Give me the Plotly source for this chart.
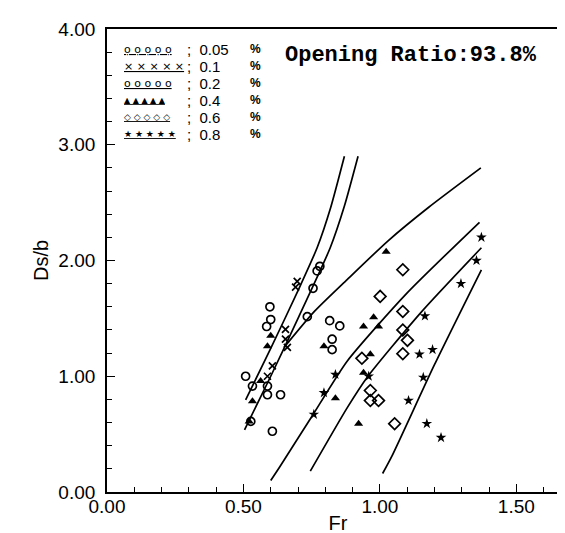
import plotly.graph_objects as go

# ---- data ----
c005_x = [0.597, 0.600, 0.585, 0.508, 0.533, 0.588, 0.588, 0.527, 0.606]
c005_y = [1.60, 1.49, 1.43, 1.00, 0.915, 0.915, 0.84, 0.61, 0.525]

c01_x = [0.697, 0.691, 0.654, 0.654, 0.661, 0.606, 0.588]
c01_y = [1.82, 1.77, 1.405, 1.32, 1.25, 1.09, 1.00]

c02_x = [0.734, 0.816, 0.853, 0.825, 0.825, 0.636, 0.755, 0.780, 0.770]
c02_y = [1.515, 1.48, 1.435, 1.32, 1.23, 0.84, 1.76, 1.95, 1.91]

c04_x = [0.795, 0.940, 0.837, 0.940, 0.922, 1.023, 0.977, 0.995, 0.965,
         0.600, 0.588, 0.563, 0.533, 0.521]
c04_y = [1.26, 1.43, 0.81, 1.03, 0.59, 2.075, 1.51, 1.43, 1.19,
         1.35, 1.26, 0.96, 0.785, 0.61]

c06_x = [1.084, 1.001, 1.084, 1.084, 1.101, 1.084, 0.934, 0.965, 0.965, 0.995, 1.054]
c06_y = [1.92, 1.69, 1.56, 1.40, 1.31, 1.195, 1.155, 0.877, 0.79, 0.79, 0.59]

c08_x = [0.837, 0.795, 0.758, 1.372, 1.354, 1.297, 1.165, 1.193, 1.145, 1.159,
         1.105, 1.172, 1.224, 0.959]
c08_y = [1.015, 0.857, 0.67, 2.20, 2.00, 1.80, 1.52, 1.23, 1.19, 0.99,
         0.79, 0.59, 0.47, 1.00]

# fitted curves
curveA_x = [0.508, 0.60, 0.70, 0.77, 0.82, 0.87]
curveA_y = [0.795, 1.24, 1.74, 2.11, 2.46, 2.90]
curveB_x = [0.504, 0.60, 0.70, 0.818, 0.87, 0.92]
curveB_y = [0.537, 1.00, 1.50, 2.11, 2.47, 2.90]
curveC_x = [0.648, 0.760, 0.880, 1.030, 1.179, 1.37]
curveC_y = [1.247, 1.56, 1.835, 2.17, 2.46, 2.80]
curveD_x = [0.60, 0.631, 0.750, 0.880, 1.10, 1.365]
curveD_y = [0.10, 0.21, 0.65, 1.13, 1.72, 2.33]
curveE_x = [0.745, 0.880, 0.953, 1.15, 1.372]
curveE_y = [0.18, 0.727, 0.99, 1.55, 2.11]
curveF_x = [1.01, 1.044, 1.20, 1.372]
curveF_y = [0.16, 0.31, 1.10, 1.92]

legend_labels = ["0.05", "0.1", "0.2", "0.4", "0.6", "0.8"]
legend_glyphs = ["ọ", "×", "o", "▲", "◇", "★"]
legend_glyph_sizes = [11, 11, 11, 8, 9, 9]

x_ticks = [0.0, 0.5, 1.0, 1.5]
y_ticks = [0.0, 1.0, 2.0, 3.0, 4.0]

fig = go.Figure()

for cx, cy in [(curveA_x, curveA_y), (curveB_x, curveB_y), (curveC_x, curveC_y),
               (curveD_x, curveD_y), (curveE_x, curveE_y), (curveF_x, curveF_y)]:
    fig.add_trace(go.Scatter(x=cx, y=cy, mode="lines",
                             line=dict(color="black", width=1.7, shape="spline", smoothing=0.6),
                             showlegend=False, hoverinfo="skip"))

series = [
    (c005_x, c005_y, dict(symbol="circle-open", size=8, color="black", line=dict(width=1.7))),
    (c01_x, c01_y, dict(symbol="x-thin-open", size=7, color="black", line=dict(width=1.7))),
    (c02_x, c02_y, dict(symbol="circle-open", size=8, color="black", line=dict(width=1.7))),
    (c04_x, c04_y, dict(symbol="triangle-up", size=8, color="black", line=dict(width=0))),
    (c06_x, c06_y, dict(symbol="diamond-open", size=9, color="black", line=dict(width=1.7))),
    (c08_x, c08_y, dict(symbol="star", size=8, color="black", line=dict(width=0))),
]
for (sx, sy, mk), lab in zip(series, legend_labels):
    fig.add_trace(go.Scatter(x=sx, y=sy, mode="markers", marker=mk,
                             name=lab, showlegend=False))

# in-plot legend as text
plot_top, plot_h, plot_l, plot_w = 21, 463, 99, 464
row_y0 = 41
row_step = 17
for i, (g, gs, lab) in enumerate(zip(legend_glyphs, legend_glyph_sizes, legend_labels)):
    yy = 1 - (row_y0 + i * row_step - plot_top) / plot_h
    fig.add_annotation(xref="paper", yref="paper", x=(114 - plot_l) / plot_w, y=yy,
                       xanchor="left", yanchor="middle", showarrow=False,
                       text="<u>" + "&nbsp;".join([g] * 5) + "</u>",
                       font=dict(family="DejaVu Sans", size=gs, color="black"))
    fig.add_annotation(xref="paper", yref="paper", x=(177 - plot_l) / plot_w, y=yy,
                       xanchor="left", yanchor="middle", showarrow=False,
                       text=";&nbsp;&nbsp;" + lab,
                       font=dict(family="Liberation Sans", size=15, color="black"))
    fig.add_annotation(xref="paper", yref="paper", x=(241 - plot_l) / plot_w, y=yy,
                       xanchor="left", yanchor="middle", showarrow=False,
                       text="<b>%</b>",
                       font=dict(family="Liberation Sans", size=12, color="black"))

fig.add_annotation(xref="paper", yref="paper", x=(276 - plot_l) / plot_w,
                   y=1 - (47 - plot_top) / plot_h,
                   xanchor="left", yanchor="middle", showarrow=False,
                   text="<b>Opening Ratio:93.8%</b>",
                   font=dict(family="Liberation Mono", size=22, color="black"))

axis_common = dict(showgrid=False, zeroline=False, showline=True, linecolor="black",
                   linewidth=1.8, mirror=True, ticks="inside", ticklen=8, tickwidth=1.3,
                   tickcolor="black", tickformat=".2f",
                   tickfont=dict(family="Liberation Sans", size=19, color="black"))

fig.update_xaxes(range=[0, 1.693], tickvals=x_ticks, ticklabelstandoff=-4,
                 minor=dict(dtick=0.1, ticks="inside", ticklen=5, tickcolor="black", tickwidth=1.2),
                 title=dict(text="Fr", font=dict(family="Liberation Sans", size=20, color="black"),
                            standoff=0),
                 **axis_common)
fig.update_yaxes(range=[0, 4.0], tickvals=y_ticks, ticklabelstandoff=6,
                 minor=dict(dtick=0.2, ticks="inside", ticklen=5, tickcolor="black", tickwidth=1.2),
                 title=dict(text="Ds/b", font=dict(family="Liberation Sans", size=20, color="black"),
                            standoff=4),
                 **axis_common)

fig.update_layout(width=565, height=533, margin=dict(l=99, r=2, t=21, b=49),
                  plot_bgcolor="white", paper_bgcolor="white", showlegend=False)

fig.write_html("out.html")
